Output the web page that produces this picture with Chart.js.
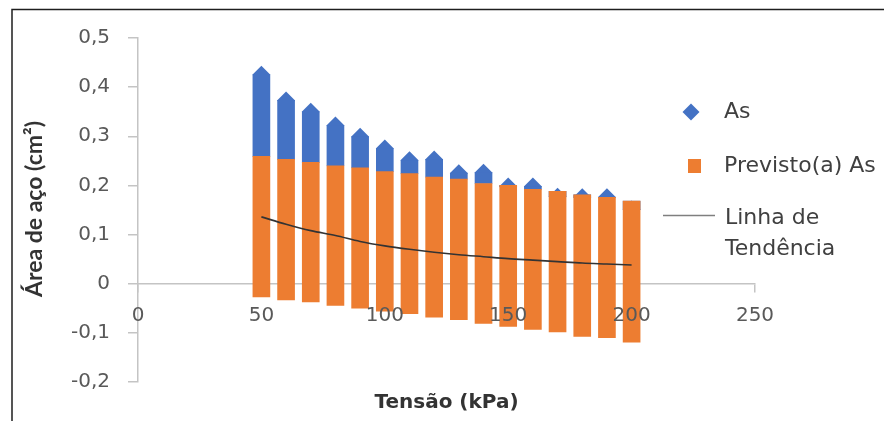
<!DOCTYPE html>
<html>
<head>
<meta charset="utf-8">
<script src="https://cdn.jsdelivr.net/npm/chart.js@4.4.1/dist/chart.umd.min.js"></script>
<style>
  body { margin: 0; background: #fff; }
  #wrap { width: 884px; height: 421px; position: relative; }
</style>
</head>
<body>
<div id="wrap"><canvas id="myChart" width="884" height="421"></canvas></div>
<script>
// values
const tensao = [50, 60, 70, 80, 90, 100, 110, 120, 130, 140, 150, 160, 170, 180, 190, 200];
const previstoMin = [-0.027, -0.033, -0.037, -0.044, -0.050, -0.056, -0.061, -0.068, -0.073, -0.081, -0.087, -0.093, -0.098, -0.107, -0.110, -0.119];
const previstoMax = [0.259, 0.253, 0.247, 0.240, 0.236, 0.228, 0.224, 0.217, 0.213, 0.204, 0.200, 0.192, 0.188, 0.181, 0.176, 0.168];
const asMax = [0.425, 0.373, 0.350, 0.322, 0.299, 0.275, 0.251, 0.253, 0.225, 0.226, 0.198, 0.198, 0.177, 0.176, 0.176, 0.151];
const tendencia = [0.136, 0.121, 0.108, 0.098, 0.086, 0.077, 0.070, 0.064, 0.059, 0.055, 0.051, 0.048, 0.045, 0.042, 0.040, 0.038];

const yTickLabels = ['-0,2', '-0,1', '0', '0,1', '0,2', '0,3', '0,4', '0,5'];
const xTickLabels = ['0', '50', '100', '150', '200', '250'];
const legendLabels = ['As', 'Previsto(a) As', ['Linha de', 'Tendência']];
const xTitle = 'Tensão (kPa)';
const yTitle = 'Área de aço (cm²)';

const blue = '#4472C4';
const orange = '#ED7D31';
const axisGray = '#c4c4c4';
const textGray = '#595959';

let ctx = document.getElementById('myChart').getContext('2d');

// legend, titles and outer frame are painted by hand
const decor = {
  id: 'decor',
  afterDraw(chart) {
    const c = chart.ctx;
    const area = chart.chartArea;
    c.save();
    // frame (top and left edge only)
    c.strokeStyle = '#1e1e1e';
    c.lineWidth = 1.5;
    c.beginPath();
    c.moveTo(12, 421);
    c.lineTo(12, 9.5);
    c.lineTo(884, 9.5);
    c.stroke();

    // axis titles
    c.fillStyle = '#333333';
    c.textAlign = 'center';
    c.textBaseline = 'middle';
    c.font = 'bold 20px "DejaVu Sans"';
    c.fillText(xTitle, (area.left + area.right) / 2, 403);
    c.save();
    c.translate(35, 209);
    c.rotate(-Math.PI / 2);
    c.font = 'bold 23px Lato';
    c.fillText(yTitle, 0, 0);
    c.restore();

    // legend
    c.textAlign = 'left';
    c.font = '22px "DejaVu Sans"';
    c.fillStyle = blue;
    c.beginPath();
    c.moveTo(691, 103.5); c.lineTo(699.5, 112); c.lineTo(691, 120.5); c.lineTo(682.5, 112);
    c.closePath();
    c.fill();
    c.fillStyle = orange;
    c.fillRect(688, 159, 13, 14);
    c.strokeStyle = '#7f7f7f';
    c.lineWidth = 1.5;
    c.beginPath();
    c.moveTo(663, 215.5); c.lineTo(715, 215.5);
    c.stroke();
    c.fillStyle = '#404040';
    c.fillText(legendLabels[0], 724, 112);
    c.fillText(legendLabels[1], 724, 166);
    c.fillText(legendLabels[2][0], 725, 218);
    c.fillText(legendLabels[2][1], 725, 249);
    c.restore();
  }
};

let myChart = new Chart(ctx, {
  data: {
    datasets: [
      {
        type: 'line',
        label: 'Linha de Tendência',
        data: tensao.map((x, i) => ({ x: x, y: tendencia[i] })),
        borderColor: '#333333',
        borderWidth: 1.6,
        pointRadius: 0,
        cubicInterpolationMode: 'monotone',
        order: 0
      },
      {
        type: 'bar',
        label: 'Previsto(a) As',
        data: tensao.map((x, i) => ({ x: x, y: [previstoMin[i], previstoMax[i]] })),
        backgroundColor: orange,
        barThickness: 17,
        grouped: false,
        order: 1
      },
      {
        type: 'bar',
        label: 'As',
        data: tensao.map((x, i) => ({ x: x, y: [previstoMax[i], asMax[i]] })),
        backgroundColor: blue,
        barThickness: 17,
        grouped: false,
        order: 2
      },
      {
        type: 'scatter',
        label: 'As',
        data: tensao.map((x, i) => ({ x: x, y: asMax[i] })),
        pointStyle: 'rectRot',
        pointRadius: 9,
        backgroundColor: blue,
        borderWidth: 0,
        order: 2
      }
    ]
  },
  options: {
    responsive: false,
    animation: false,
    layout: { padding: { left: 0, top: 38, right: 129, bottom: 39 } },
    plugins: { legend: { display: false }, tooltip: { enabled: false } },
    scales: {
      x: {
        type: 'linear',
        position: { y: 0 },
        min: 0,
        max: 250,
        offset: false,
        border: { display: true, color: axisGray, width: 1.5, z: -1 },
        grid: {
          offset: false,
          drawOnChartArea: false,
          tickLength: 8,
          lineWidth: 1.5,
          color: axisGray,
          z: -1
        },
        ticks: {
          stepSize: 50,
          padding: 12,
          maxRotation: 0,
          color: textGray,
          z: 1,
          font: { family: 'DejaVu Sans', size: 20 },
          callback: (v, i) => xTickLabels[i]
        }
      },
      y: {
        type: 'linear',
        position: 'left',
        min: -0.2,
        max: 0.5,
        afterFit: s => { s.width = 138; },
        border: { display: true, color: axisGray, width: 1.5 },
        grid: {
          drawOnChartArea: false,
          tickLength: 10,
          lineWidth: 1.5,
          color: axisGray
        },
        ticks: {
          stepSize: 0.1,
          padding: 18,
          color: textGray,
          font: { family: 'DejaVu Sans', size: 20 },
          callback: (v, i) => yTickLabels[i]
        }
      }
    }
  },
  plugins: [decor]
});
</script>
</body>
</html>
